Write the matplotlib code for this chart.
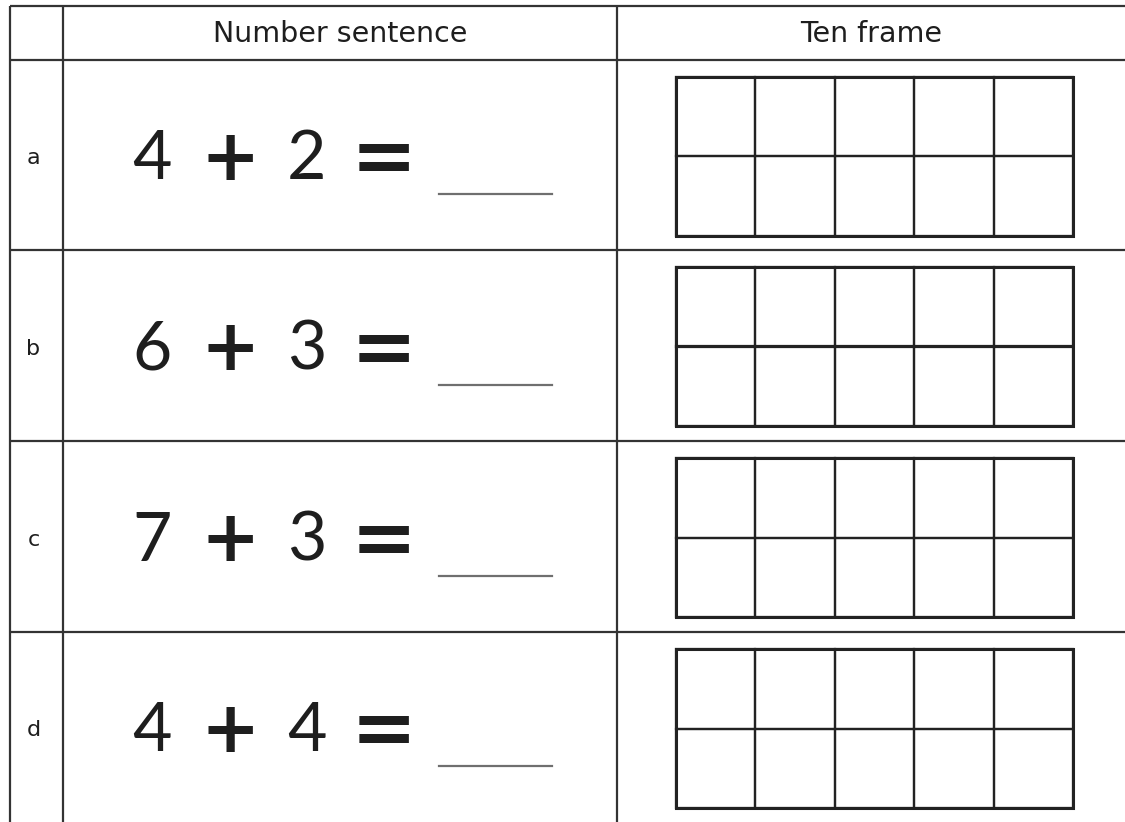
import matplotlib
matplotlib.use("Agg")
import matplotlib.pyplot as plt
from matplotlib.patches import Rectangle

# ---- content ----
row_labels = ["a", "b", "c", "d"]
first_addends = [4, 6, 7, 4]
second_addends = [2, 3, 3, 4]
headers = ["Number sentence", "Ten frame"]
frame_cols = 5
frame_rows = 2

# ---- layout (pixels) ----
W, H = 1125, 822
col_x = [10, 63, 617, 1125]
row_y = [6, 60, 250, 441, 632, 822]
frame_w, frame_h = 397, 159
frame_x0 = 676
frame_top_pad = 17
token_x = [152, 230, 307, 384]
blank_x = (439, 552)

line_col = "#333333"
frame_col = "#222222"
text_col = "#1e1e1e"

fig = plt.figure(figsize=(W / 100, H / 100), dpi=100)
ax = fig.add_axes([0, 0, 1, 1])
ax.set_xlim(0, W)
ax.set_ylim(H, 0)
ax.axis("off")

# table lines
for y in row_y[:-1]:
    ax.plot([col_x[0], W], [y, y], color=line_col, lw=1.6, solid_capstyle="butt")
for x in col_x[:-1]:
    ax.plot([x, x], [row_y[0], H], color=line_col, lw=1.6, solid_capstyle="butt")

# headers
hy = (row_y[0] + row_y[1]) / 2 + 1
ax.text((col_x[1] + col_x[2]) / 2, hy, headers[0], ha="center", va="center",
        fontsize=20.5, family="DejaVu Sans", color=text_col)
ax.text((col_x[2] + col_x[3]) / 2, hy, headers[1], ha="center", va="center",
        fontsize=20.5, family="DejaVu Sans", color=text_col)

for i, (lab, a, b) in enumerate(zip(row_labels, first_addends, second_addends)):
    top, bot = row_y[i + 1], row_y[i + 2]
    cy = (top + bot) / 2
    ax.text((col_x[0] + col_x[1]) / 2 - 3, cy + 3, lab, ha="center", va="center",
            fontsize=16, family="DejaVu Sans", color=text_col)
    for tok, tx in zip([str(a), str(b)], [token_x[0], token_x[2]]):
        ax.text(tx, cy + 5, tok, ha="center", va="center", fontsize=49,
                family="Lato", color=text_col)
    ax.text(token_x[1], cy + 5, "+", ha="center", va="center", fontsize=51,
            family="DejaVu Sans", fontweight="bold", color=text_col)
    ax.text(token_x[3], cy + 5, "=", ha="center", va="center", fontsize=57,
            family="DejaVu Sans", fontweight="bold", color=text_col)
    ax.plot(blank_x, [cy + 39, cy + 39], color="#6f6f6f", lw=1.6)

    # ten frame
    fy = top + frame_top_pad
    cw = frame_w / frame_cols
    ch = frame_h / frame_rows
    for r in range(frame_rows):
        for c in range(frame_cols):
            ax.add_patch(Rectangle((frame_x0 + c * cw, fy + r * ch), cw, ch,
                                   fill=False, edgecolor=frame_col, lw=1.6))
    ax.add_patch(Rectangle((frame_x0, fy), frame_w, frame_h, fill=False,
                           edgecolor=frame_col, lw=2.2))

fig.savefig("out.png", dpi=100, facecolor="white")
